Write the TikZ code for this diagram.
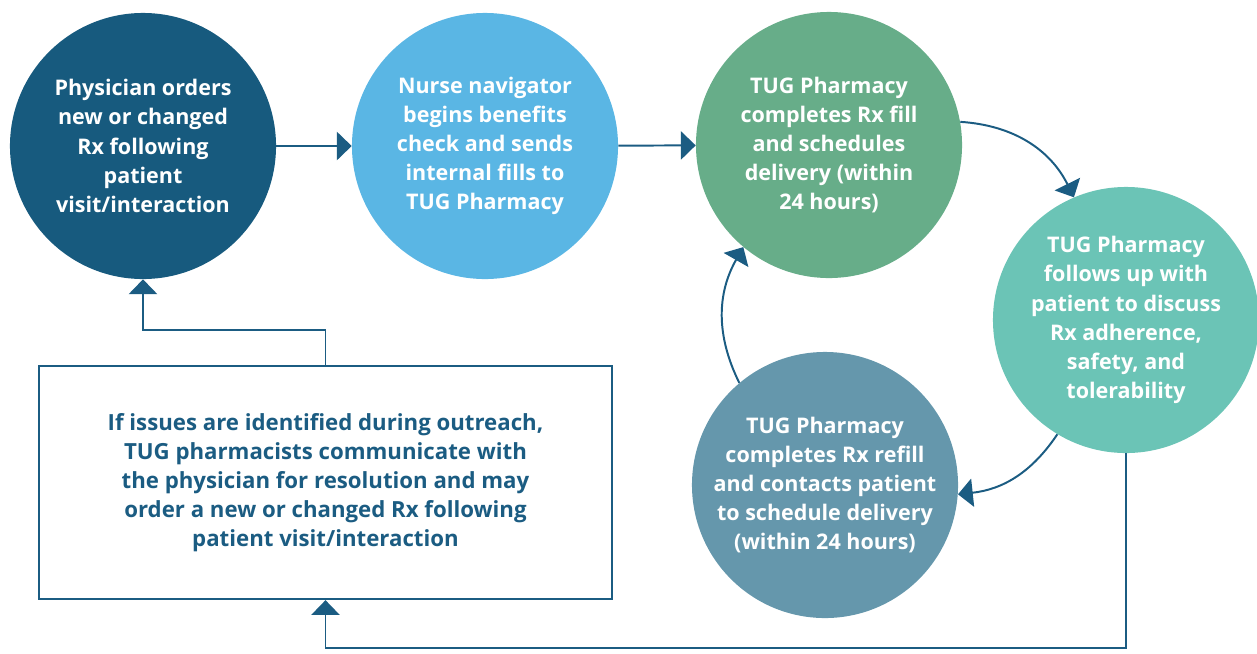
\documentclass[tikz,border=0pt]{standalone}
\usepackage{fontspec}
\setmainfont{Open Sans}
\usetikzlibrary{arrows.meta}

\definecolor{navy}{HTML}{175A7E}
\definecolor{sky}{HTML}{5AB6E4}
\definecolor{sage}{HTML}{67AD89}
\definecolor{mint}{HTML}{6BC4B6}
\definecolor{slate}{HTML}{6597AC}
\definecolor{lineblue}{HTML}{1B5C82}

\begin{document}
\begin{tikzpicture}[x=0.025cm,y=-0.025cm,
	stage/.style={circle,fill=#1,text=white,minimum size=6.65cm,inner sep=0pt,
		align=center,font=\bfseries\fontsize{15.3}{20.7}\selectfont},
	flow/.style={draw=lineblue,line width=1.4pt,-{Triangle[width=20pt,length=10.5pt]}}]
	
	\useasboundingbox (0,0) rectangle (1257,653);
	
	%------------------------------
	% Stages of the cycle
	%------------------------------
	\node[stage=navy] (order) at (143,146)
	{Physician orders\\new or changed\\Rx following\\patient\\visit/interaction};
	\node[stage=sky] (nurse) at (485,146)
	{Nurse navigator\\begins benefits\\check and sends\\internal fills to\\TUG Pharmacy};
	\node[stage=sage] (fill) at (829,145)
	{TUG Pharmacy\\completes Rx fill\\and schedules\\delivery (within\\24 hours)};
	\node[stage=mint] (follow) at (1126,320)
	{TUG Pharmacy\\follows up with\\patient to discuss\\Rx adherence,\\safety, and\\tolerability};
	\node[stage=slate] (refill) at (825,485)
	{TUG Pharmacy\\completes Rx refill\\and contacts patient\\to schedule delivery\\(within 24 hours)};
	
	% Outreach box
	\node[draw=lineblue,line width=1.6pt,text=lineblue,minimum width=14.325cm,
	minimum height=5.825cm,align=center,font=\bfseries\fontsize{15.8}{20.7}\selectfont]
	(issues) at (325.5,482.5)
	{If issues are identified during outreach,\\TUG pharmacists communicate with\\the physician for resolution and may\\order a new or changed Rx following\\patient visit/interaction};
	
	%------------------------------
	% Connectors
	%------------------------------
	\draw[flow] (order) -- (nurse);
	\draw[flow] (nurse) -- (fill);
	\draw[flow] (fill.10) to[bend left=30] (follow.113);
	\draw[flow] (follow.-121) to[bend left=25] (refill.-4);
	\draw[flow] (refill.130) to[bend left=28] (fill.230);
	
	% Feedback loop through the box
	\coordinate (lowrun) at (0,648);
	\coordinate (midrun) at (0,330);
	\draw[flow] (follow.south) -- (follow.south |- lowrun) -- (issues.south |- lowrun) -- (issues.south);
	\draw[flow] (issues.north) -- (issues.north |- midrun) -- (order.south |- midrun) -- (order.south);
	
\end{tikzpicture}
\end{document}
